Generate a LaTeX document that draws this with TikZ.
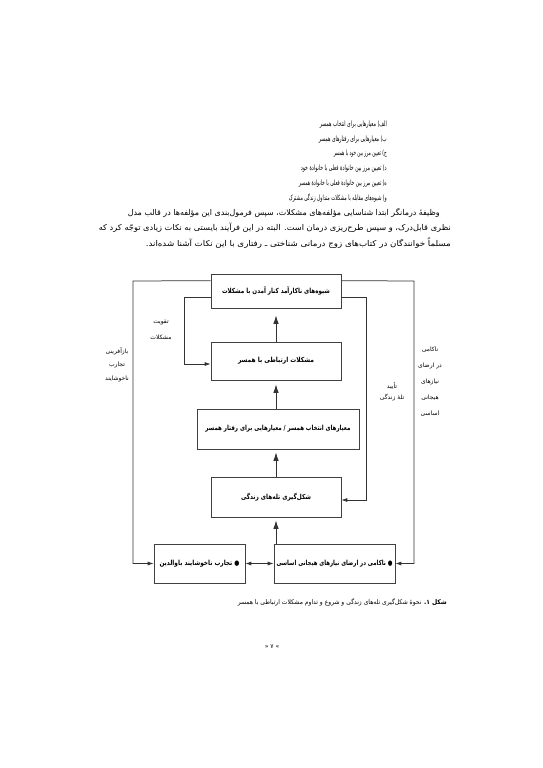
\documentclass[tikz,border=0pt]{standalone}
\usepackage{fontspec}
\usepackage{graphicx}
\usetikzlibrary{arrows.meta}
\TeXXeTstate=1
\newfontfamily\fa[Script=Arabic]{DejaVu Sans}
\newcommand\faw[2]{\resizebox{#1pt}{\height}{\fa #2}}
\tikzset{
  box/.style={draw=black!75, line width=0.7pt, inner sep=0pt, fill=white,
              font=\fontsize{7}{8}\selectfont},
  conn/.style={draw=black!80, line width=0.75pt},
  varr/.style={conn, line width=0.9pt, -{Latex[length=8.5pt,width=5.5pt]}},
  harr/.style={conn, -{Latex[length=6pt,width=4pt]}},
  txt/.style={inner sep=0pt, anchor=east, font=\fontsize{8}{9}\selectfont},
  item/.style={inner sep=0pt, anchor=east, font=\fontsize{7.4}{8}\selectfont},
  lab/.style={inner sep=0pt, font=\fontsize{6}{7}\selectfont\fa},
}
\begin{document}
\begin{tikzpicture}[x=1pt,y=-1pt]
\useasboundingbox[fill=white] (0,0) rectangle (543,768);

% body text
\node[item] (t1) at (387,125) {\faw{67}{\beginR الف) معیارهایی برای انتخاب همسر\endR}};
\node[item] (t2) at (387,140) {\faw{68}{\beginR ب) معیارهایی برای رفتارهای همسر\endR}};
\node[item] (t3) at (387,154) {\faw{53}{\beginR ج) تعیین مرز بین خود با همسر\endR}};
\node[item] (t4) at (387,169) {\faw{86}{\beginR د) تعیین مرز بین خانوادهٔ فعلی با خانوادهٔ خود\endR}};
\node[item] (t5) at (387,184) {\faw{88}{\beginR ه) تعیین مرز بین خانوادهٔ فعلی با خانوادهٔ همسر\endR}};
\node[item] (t6) at (387,198) {\faw{98}{\beginR و) شیوه‌های مقابله با مشکلات متداول زندگی مشترک\endR}};
\node[txt] (p1) at (440,213) {\faw{312}{\beginR وظیفهٔ درمانگر ابتدا شناسایی مؤلفه‌های مشکلات، سپس فرمول‌بندی این مؤلفه‌ها در قالب مدل\endR}};
\node[txt] (p2) at (451,228) {\faw{352}{\beginR نظری قابل‌درک، و سپس طرح‌ریزی درمان است. البته در این فرآیند بایستی به نکات زیادی توجّه کرد که\endR}};
\node[txt] (p3) at (451,243) {\faw{305}{\beginR مسلماً خوانندگان در کتاب‌های زوج درمانی شناختی ـ رفتاری با این نکات آشنا شده‌اند.\endR}};

% boxes
\node[box, minimum width=130pt, minimum height=34pt] (top) at (276,291)
  {\faw{108}{\bfseries\beginR شیوه‌های ناکارآمد کنار آمدن با مشکلات\endR}};
\node[box, minimum width=130pt, minimum height=38pt] (b2) at (276,361)
  {\faw{76}{\bfseries\beginR مشکلات ارتباطی با همسر\endR}};
\node[box, minimum width=162pt, minimum height=40pt] (b3) at (278,429)
  {\faw{145}{\bfseries\beginR معیارهای انتخاب همسر / معیارهایی برای رفتار همسر\endR}};
\node[box, minimum width=130pt, minimum height=40pt] (b4) at (276,497)
  {\faw{70}{\bfseries\beginR شکل‌گیری تله‌های زندگی\endR}};
\node[box, minimum width=121pt, minimum height=39pt] (b5) at (334.5,563.5)
  {\faw{116}{\bfseries\beginR ● ناکامی در ارضای نیازهای هیجانی اساسی\endR}};
\node[box, minimum width=91pt, minimum height=39pt] (b6) at (199.5,563.5)
  {\faw{80}{\bfseries\beginR ● تجارب ناخوشایند باوالدین\endR}};

% vertical arrows
\draw[varr, shorten >=7pt] (b2.north) -- (top.south);
\draw[varr, shorten >=4pt] (b3.north -| b2.south) -- (b2.south);
\draw[varr, shorten >=3pt] (b4.north) -- (b4.north |- b3.south);
\draw[varr, shorten >=3pt] (b4.south |- b5.north) -- (b4.south);

% loops
\coordinate (LT) at (133,281);
\coordinate (RT) at (414,281);
\coordinate (IL) at (184,297);
\coordinate (IR) at (366,297);
\draw[harr] ([yshift=-7pt]top.north west) -- (LT) |- (b6.west);
\draw[harr] ([yshift=-7pt]top.north east) -- (RT) |- (b5.east);
\draw[harr] ([yshift=-6pt]top.west) -- (IL) |- ([yshift=-3pt]b2.west);
\draw[harr] ([yshift=-6pt]top.east) -- (IR) |- ([yshift=-3pt]b4.east);
\draw[conn, {Latex[length=6pt,width=4pt]}-{Latex[length=6pt,width=4pt]}] (b6.east) -- (b5.west);

% labels
\node[lab] (la1) at (161,323) {\beginR تقویت\endR};
\node[lab] (la2) at (161,337) {\beginR مشکلات\endR};
\node[lab] (lb1) at (117,351) {\beginR بازآفرینی\endR};
\node[lab] (lb2) at (117,365) {\beginR تجارب\endR};
\node[lab] (lb3) at (117,379) {\beginR ناخوشایند\endR};
\node[lab] (lc1) at (392,386) {\beginR تأیید\endR};
\node[lab] (lc2) at (392,398) {\beginR تلهٔ زندگی\endR};
\node[lab] (ld1) at (430,350) {\beginR ناکامی\endR};
\node[lab] (ld2) at (430,366) {\beginR در ارضای\endR};
\node[lab] (ld3) at (430,382) {\beginR نیازهای\endR};
\node[lab] (ld4) at (430,398) {\beginR هیجانی\endR};
\node[lab] (ld5) at (430,414) {\beginR اساسی\endR};

% caption and page number
\node[txt, font=\fontsize{6.5}{7.5}\selectfont] (cap) at (447,602)
  {\faw{209}{\beginR{\bfseries شکل ۱.} نحوهٔ شکل‌گیری تله‌های زندگی و شروع و تداوم مشکلات ارتباطی با همسر\endR}};
\node[lab] (pg) at (272,647) {« ۷ »};
\end{tikzpicture}
\end{document}
